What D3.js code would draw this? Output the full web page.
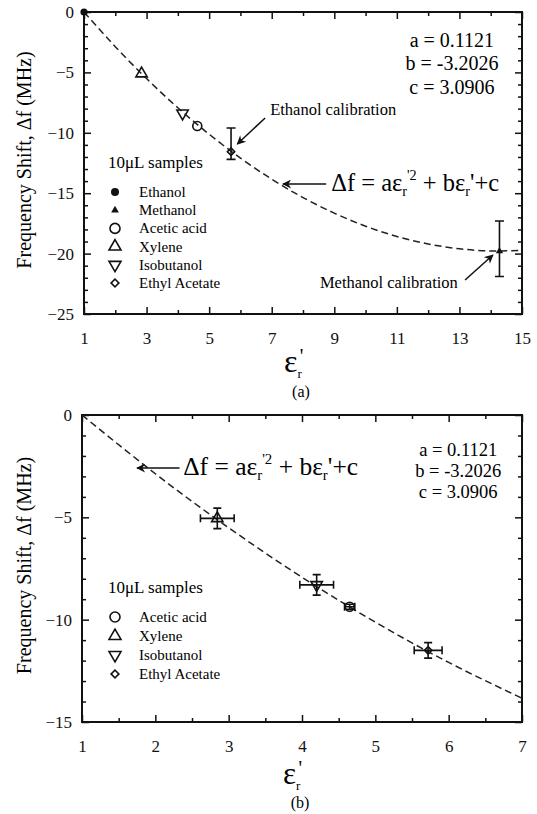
<!DOCTYPE html>
<html>
<head>
<meta charset="utf-8">
<script src="https://cdn.jsdelivr.net/npm/d3@7"></script>
<style>
  body { margin: 0; background: #fff; }
  svg .tick text { fill: #111; }
  .tick line { stroke: #111; stroke-width: 1.5; }
</style>
</head>
<body>
<svg id="chart" width="537" height="814"></svg>
<script>
// ---------- panel (a) ----------
const fitEpsA = [1, 2, 3, 4, 5, 6, 7, 8, 9, 10, 11, 12, 13, 14, 15];
const fitShiftA = [0, -2.87, -5.51, -7.93, -10.12, -12.09, -13.84, -15.36, -16.65, -17.73, -18.58, -19.2, -19.6, -19.78, -19.73];
const samplesA = ['Ethanol', 'Methanol', 'Acetic acid', 'Xylene', 'Isobutanol', 'Ethyl Acetate'];
const epsA = [1, 14.28, 4.62, 2.84, 4.15, 5.7];
const shiftA = [0, -19.8, -9.44, -5.1, -8.39, -11.56];
const errTopA = [null, -17.3, null, null, null, -9.6];
const errBotA = [null, -21.9, null, null, null, -12.2];
const xTicksA = [1, 3, 5, 7, 9, 11, 13, 15];
const yTicksA = [0, -5, -10, -15, -20, -25];

// ---------- panel (b) ----------
const fitEpsB = [1, 2, 3, 4, 5, 6, 7];
const fitShiftB = [0, -2.87, -5.51, -7.93, -10.12, -12.09, -13.84];
const samplesB = ['Acetic acid', 'Xylene', 'Isobutanol', 'Ethyl Acetate'];
const epsB = [4.65, 2.845, 4.2, 5.72];
const shiftB = [-9.37, -5.05, -8.3, -11.5];
const epsErrB = [0.07, 0.23, 0.23, 0.19];
const shiftErrB = [0.12, 0.5, 0.5, 0.38];
const xTicksB = [1, 2, 3, 4, 5, 6, 7];
const yTicksB = [0, -5, -10, -15];

const coefLabels = ['a = 0.1121', 'b = -3.2026', 'c = 3.0906'];

const FONT = 'Liberation Serif';
const svg = d3.select('#chart').attr('font-family', FONT);
svg.append('rect').attr('width', 537).attr('height', 814).attr('fill', '#fff');

svg.append('defs').append('marker')
  .attr('id', 'arrow').attr('viewBox', '0 0 10 10')
  .attr('refX', 9).attr('refY', 5)
  .attr('markerWidth', 10).attr('markerHeight', 9)
  .attr('markerUnits', 'userSpaceOnUse')
  .attr('orient', 'auto')
  .append('path').attr('d', 'M0,0 L10,5 L0,10 L3,5 Z').attr('fill', '#111');

// marker glyphs per sample
function drawSymbol(g, name, cx, cy, big) {
  const k = big ? 1 : 0.9;
  const sw = 1.6;
  if (name === 'Ethanol') {
    g.append('circle').attr('cx', cx).attr('cy', cy).attr('r', 4 * k).attr('fill', '#111');
  } else if (name === 'Methanol') {
    g.append('path').attr('d', d3.symbol(d3.symbolTriangle, 26 * k)())
      .attr('transform', `translate(${cx},${cy})`).attr('fill', '#111');
  } else if (name === 'Acetic acid') {
    g.append('circle').attr('cx', cx).attr('cy', cy).attr('r', 5 * k)
      .attr('fill', 'none').attr('stroke', '#111').attr('stroke-width', sw);
  } else if (name === 'Xylene') {
    g.append('path').attr('d', d3.symbol(d3.symbolTriangle, 62 * k)())
      .attr('transform', `translate(${cx},${cy})`)
      .attr('fill', 'none').attr('stroke', '#111').attr('stroke-width', sw);
  } else if (name === 'Isobutanol') {
    g.append('path').attr('d', d3.symbol(d3.symbolTriangle, 62 * k)())
      .attr('transform', `translate(${cx},${cy}) rotate(180)`)
      .attr('fill', 'none').attr('stroke', '#111').attr('stroke-width', sw);
  } else {
    g.append('path').attr('d', d3.symbol(d3.symbolSquare, 30 * k)())
      .attr('transform', `translate(${cx},${cy}) rotate(45)`)
      .attr('fill', 'none').attr('stroke', '#111').attr('stroke-width', sw);
  }
}

// ε_r' axis label plus panel tag
function epsLabel(g, cx, cy, tag, size, tagDy) {
  const t = g.append('text').attr('x', cx - 19).attr('y', cy).attr('font-family', FONT);
  t.append('tspan').attr('font-size', size).text('ε');
  t.append('tspan').attr('font-size', 13).attr('dy', 6).text('r');
  t.append('tspan').attr('font-size', 20).attr('dx', -2).attr('dy', -15).text("'");
  g.append('text').attr('x', cx - 2).attr('y', cy + tagDy).attr('text-anchor', 'middle')
    .attr('font-family', FONT).attr('font-size', 16).text(tag);
}

function formula(g, x0, y0, fs) {
  const t = g.append('text').attr('x', x0).attr('y', y0).attr('font-size', fs).attr('font-family', FONT);
  const s = fs * 0.58;
  t.append('tspan').text('Δf = aε');
  t.append('tspan').attr('font-size', s).attr('dy', fs * 0.22).text('r');
  t.append('tspan').attr('font-size', s).attr('dy', -fs * 0.66).text("'2");
  t.append('tspan').attr('dy', fs * 0.44).text(' + bε');
  t.append('tspan').attr('font-size', s).attr('dy', fs * 0.22).text('r');
  t.append('tspan').attr('dy', -fs * 0.22).text("'+c");
}

function arrow(g, x1, y1, x2, y2) {
  g.append('line').attr('x1', x1).attr('y1', y1).attr('x2', x2).attr('y2', y2)
    .attr('stroke', '#111').attr('stroke-width', 1.5).attr('marker-end', 'url(#arrow)');
}

function drawPanel(cfg) {
  const g = svg.append('g');
  const x = d3.scaleLinear().domain(cfg.xDomain).range([cfg.left, cfg.right]);
  const y = d3.scaleLinear().domain(cfg.yDomain).range([cfg.top, cfg.bottom]);

  const sides = [
    [() => d3.axisBottom(x), cfg.xTicks, cfg.xMinor, `translate(0,${cfg.bottom})`, true, 18],
    [() => d3.axisTop(x), cfg.xTicks, cfg.xMinor, `translate(0,${cfg.top})`, false, 0],
    [() => d3.axisLeft(y), cfg.yTicks, cfg.yMinor, `translate(${cfg.left},0)`, true, 10],
    [() => d3.axisRight(y), cfg.yTicks, cfg.yMinor, `translate(${cfg.right},0)`, false, 0]
  ];
  sides.forEach(([mk, major, minor, tr, labels, pad]) => {
    g.append('g').attr('transform', tr)
      .call(mk().tickValues(minor).tickSizeInner(-4).tickSizeOuter(0).tickFormat(''))
      .call(a => a.select('.domain').remove());
    const ax = mk().tickValues(major).tickSizeInner(-7).tickSizeOuter(0).tickPadding(pad)
      .tickFormat(labels ? d3.format('d') : '');
    g.append('g').attr('transform', tr).call(ax)
      .attr('font-family', FONT).attr('font-size', 17)
      .call(a => a.select('.domain').remove());
  });

  g.append('rect').attr('x', cfg.left).attr('y', cfg.top)
    .attr('width', cfg.right - cfg.left).attr('height', cfg.bottom - cfg.top)
    .attr('fill', 'none').attr('stroke', '#111').attr('stroke-width', 2);

  // fitted curve
  const line = d3.line().x(d => x(d[0])).y(d => y(d[1])).curve(d3.curveNatural);
  g.append('path').datum(d3.zip(cfg.fitX, cfg.fitY)).attr('d', line)
    .attr('fill', 'none').attr('stroke', '#222').attr('stroke-width', 1.5)
    .attr('stroke-dasharray', '7,4');

  // error bars + markers
  cfg.names.forEach((n, i) => {
    const px = x(cfg.eps[i]), py = y(cfg.shift[i]);
    if (cfg.errTop && cfg.errTop[i] != null) {
      const y1 = y(cfg.errTop[i]), y2 = y(cfg.errBot[i]);
      g.append('path').attr('d', `M${px},${y1}V${y2}M${px - 4.5},${y1}H${px + 4.5}M${px - 4.5},${y2}H${px + 4.5}`)
        .attr('stroke', '#111').attr('stroke-width', 1.6).attr('fill', 'none');
    }
    if (cfg.epsErr) {
      const xa = x(cfg.eps[i] - cfg.epsErr[i]), xb = x(cfg.eps[i] + cfg.epsErr[i]);
      const ya = y(cfg.shift[i] + cfg.shiftErr[i]), yb = y(cfg.shift[i] - cfg.shiftErr[i]);
      g.append('path').attr('d',
        `M${xa},${py}H${xb}M${xa},${py - 4}V${py + 4}M${xb},${py - 4}V${py + 4}` +
        `M${px},${ya}V${yb}M${px - 4},${ya}H${px + 4}M${px - 4},${yb}H${px + 4}`)
        .attr('stroke', '#111').attr('stroke-width', 1.6).attr('fill', 'none');
    }
    drawSymbol(g, n, px, py, false);
  });

  // legend
  g.append('text').attr('x', cfg.legX).attr('y', cfg.legY).attr('font-size', 17).text('10μL samples');
  cfg.names.forEach((n, i) => {
    const ry = cfg.legY + 24 + i * cfg.legStep;
    drawSymbol(g, n, cfg.legX + 7, ry, true);
    g.append('text').attr('x', cfg.legX + 31).attr('y', ry + 5).attr('font-size', 15).text(n);
  });

  // coefficients
  coefLabels.forEach((t, i) => {
    g.append('text').attr('x', x(cfg.coefX)).attr('y', y(cfg.coefY[i]))
      .attr('text-anchor', 'middle').attr('font-size', cfg.coefSize).text(t);
  });

  // y title
  g.append('text')
    .attr('transform', `translate(31,${(cfg.top + cfg.bottom) / 2 - 3}) rotate(-90)`)
    .attr('text-anchor', 'middle').attr('font-size', 20)
    .text('Frequency Shift, Δf (MHz)');

  epsLabel(g, (cfg.left + cfg.right) / 2, cfg.bottom + cfg.epsDy, cfg.tag, cfg.epsSize, cfg.tagDy);
  return { g, x, y };
}

const A = drawPanel({
  left: 84, right: 522, top: 12, bottom: 314,
  xDomain: [1, 15], yDomain: [0, -25],
  xTicks: xTicksA, xMinor: d3.range(2, 15, 2),
  yTicks: yTicksA, yMinor: d3.range(-1, -25, -1).filter(v => v % 5 !== 0),
  fitX: fitEpsA, fitY: fitShiftA,
  names: samplesA, eps: epsA, shift: shiftA, errTop: errTopA, errBot: errBotA,
  legX: 108, legY: 168, legStep: 18.2,
  coefX: 12.76, coefY: [-2.9, -4.8, -6.8], coefSize: 20,
  epsDy: 58, epsSize: 32, tag: '(a)', tagDy: 25
});
// annotations (a)
arrow(A.g, A.x(6.79), A.y(-8.77), A.x(5.9), A.y(-10.93));
A.g.append('text').attr('x', A.x(6.95)).attr('y', A.y(-8.5)).attr('font-size', 16.5).text('Ethanol calibration');
arrow(A.g, A.x(8.74), A.y(-14.24), A.x(7.36), A.y(-14.24));
formula(A.g, A.x(8.9), A.y(-14.8), 24.5);
arrow(A.g, A.x(13.18), A.y(-22.19), A.x(14.07), A.y(-20.12));
A.g.append('text').attr('x', A.x(12.95)).attr('y', A.y(-22.85)).attr('text-anchor', 'end')
  .attr('font-size', 16.5).text('Methanol calibration');

const B = drawPanel({
  left: 82, right: 522, top: 415, bottom: 722,
  xDomain: [1, 7], yDomain: [0, -15],
  xTicks: xTicksB, xMinor: d3.range(1.5, 7, 1),
  yTicks: yTicksB, yMinor: d3.range(-1, -15, -1).filter(v => v % 5 !== 0),
  fitX: fitEpsB, fitY: fitShiftB,
  names: samplesB, eps: epsB, shift: shiftB, epsErr: epsErrB, shiftErr: shiftErrB,
  legX: 108, legY: 593, legStep: 19,
  coefX: 6.13, coefY: [-2.0, -3.03, -4.06], coefSize: 18.5,
  epsDy: 62, epsSize: 31, tag: '(b)', tagDy: 24
});
arrow(B.g, B.x(2.33), B.y(-2.59), B.x(1.75), B.y(-2.59));
formula(B.g, B.x(2.38), B.y(-2.92), 25.5);
</script>
</body>
</html>
